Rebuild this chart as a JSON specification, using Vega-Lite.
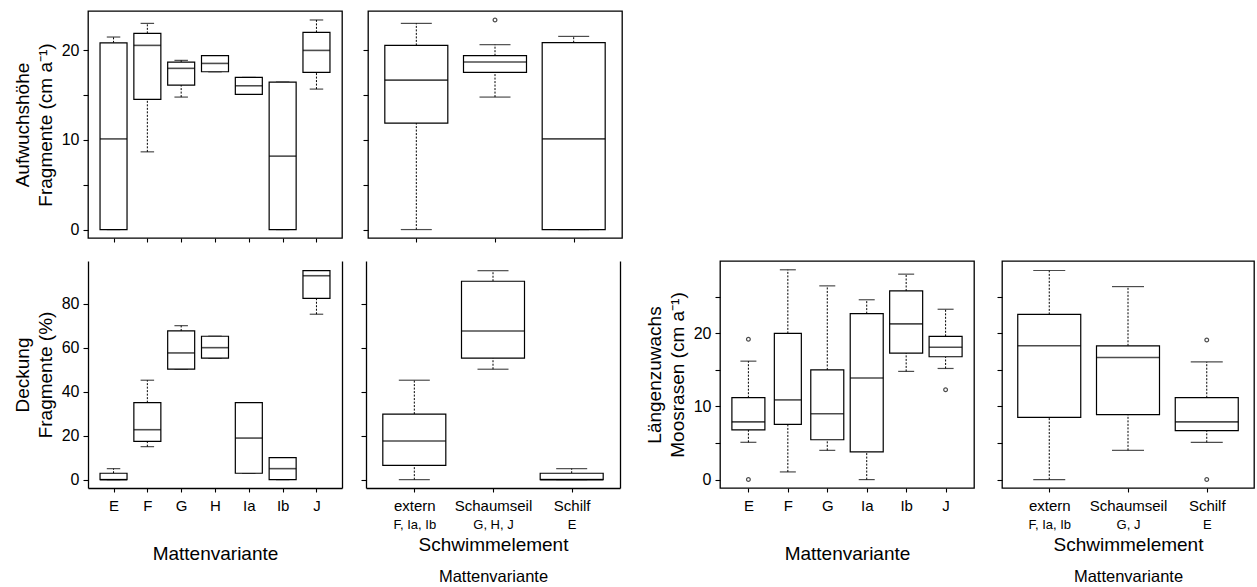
{
 "$schema": "https://vega.github.io/schema/vega-lite/v6.json",
 "padding": {"left": 12, "top": 10, "right": 2, "bottom": 0},
 "background": "white",
 "config": {
  "font": "Liberation Sans",
  "view": {"stroke": null},
  "axis": {"domainColor": "#000", "domainWidth": 1.3, "tickColor": "#000", "tickWidth": 1.1, "labelColor": "#000", "titleColor": "#000", "titleFontWeight": "normal", "grid": false, "labelFont": "Liberation Sans", "titleFont": "Liberation Sans"},
  "axisY": {"labelFontSize": 16, "tickSize": 5, "labelPadding": 4, "titleFontSize": 19, "titleLineHeight": 23, "titlePadding": 6},
  "axisX": {"labelFontSize": 15, "tickSize": 4, "labelPadding": 6, "titleFontSize": 19, "titlePadding": 31, "labelAngle": 0}
 },
 "datasets": {
  "A": [
   {"cat": "E", "lw": 0, "q1": 0, "med": 10.1, "q3": 20.8, "uw": 21.45},
   {"cat": "F", "lw": 8.66, "q1": 14.5, "med": 20.52, "q3": 21.86, "uw": 22.97},
   {"cat": "G", "lw": 14.76, "q1": 16.1, "med": 17.96, "q3": 18.66, "uw": 18.85},
   {"cat": "H", "lw": 17.58, "q1": 17.58, "med": 18.51, "q3": 19.37, "uw": 19.37},
   {"cat": "Ia", "lw": 15.06, "q1": 15.06, "med": 16.02, "q3": 16.95, "uw": 16.95},
   {"cat": "Ib", "lw": 0, "q1": 0, "med": 8.18, "q3": 16.43, "uw": 16.43},
   {"cat": "J", "lw": 15.65, "q1": 17.51, "med": 19.96, "q3": 21.97, "uw": 23.35}
  ],
  "B": [
   {"cat": "extern", "lw": 0, "q1": 11.86, "med": 16.65, "q3": 20.52, "uw": 22.97},
   {"cat": "Schaumseil", "lw": 14.76, "q1": 17.51, "med": 18.66, "q3": 19.37, "uw": 20.6},
   {"cat": "Schilf", "lw": 0, "q1": 0, "med": 10.1, "q3": 20.82, "uw": 21.52}
  ],
  "Bout": [
   {"cat": "Schaumseil", "val": 23.35}
  ],
  "C": [
   {"cat": "E", "lw": 0, "q1": 0, "med": 0, "q3": 2.9, "uw": 5.0},
   {"cat": "F", "lw": 15, "q1": 17.4, "med": 22.7, "q3": 35, "uw": 45.2},
   {"cat": "G", "lw": 50.2, "q1": 50.2, "med": 57.6, "q3": 67.6, "uw": 70},
   {"cat": "H", "lw": 55.2, "q1": 55.2, "med": 60, "q3": 65.2, "uw": 65.2},
   {"cat": "Ia", "lw": 2.9, "q1": 2.9, "med": 18.9, "q3": 35, "uw": 35},
   {"cat": "Ib", "lw": 0, "q1": 0, "med": 5, "q3": 10, "uw": 10},
   {"cat": "J", "lw": 75.2, "q1": 82.4, "med": 92.7, "q3": 95, "uw": 95}
  ],
  "D": [
   {"cat": "extern", "lw": 0, "q1": 6.5, "med": 17.6, "q3": 29.8, "uw": 45.2},
   {"cat": "Schaumseil", "lw": 50.2, "q1": 55.2, "med": 67.6, "q3": 90.2, "uw": 95},
   {"cat": "Schilf", "lw": 0, "q1": 0, "med": 0, "q3": 2.9, "uw": 5}
  ],
  "E": [
   {"cat": "E", "lw": 5.1, "q1": 6.8, "med": 7.9, "q3": 11.2, "uw": 16.2},
   {"cat": "F", "lw": 1.05, "q1": 7.55, "med": 10.9, "q3": 20.0, "uw": 28.7},
   {"cat": "G", "lw": 4.0, "q1": 5.45, "med": 9.0, "q3": 15.0, "uw": 26.5},
   {"cat": "Ia", "lw": 0, "q1": 3.8, "med": 13.9, "q3": 22.7, "uw": 24.6},
   {"cat": "Ib", "lw": 14.8, "q1": 17.3, "med": 21.3, "q3": 25.8, "uw": 28.1},
   {"cat": "J", "lw": 15.2, "q1": 16.8, "med": 18.1, "q3": 19.6, "uw": 23.3}
  ],
  "Eout": [
   {"cat": "E", "val": 19.2},
   {"cat": "E", "val": 0},
   {"cat": "J", "val": 12.3}
  ],
  "F": [
   {"cat": "extern", "lw": 0, "q1": 8.5, "med": 18.3, "q3": 22.6, "uw": 28.6},
   {"cat": "Schaumseil", "lw": 4.0, "q1": 8.9, "med": 16.7, "q3": 18.3, "uw": 26.4},
   {"cat": "Schilf", "lw": 5.1, "q1": 6.7, "med": 7.9, "q3": 11.2, "uw": 16.1}
  ],
  "Fout": [
   {"cat": "Schilf", "val": 19.1},
   {"cat": "Schilf", "val": 0}
  ]
 },
 "spacing": 16,
 "vconcat": [
  {
   "spacing": 18,
   "hconcat": [
    {
     "width": 254, "height": 227,
     "view": {"stroke": "#000", "strokeWidth": 1.3},
     "data": {"name": "A"},
     "encoding": {"x": {"field": "cat", "type": "nominal", "scale": {"type": "point", "padding": 0.755, "domain": ["E", "F", "G", "H", "Ia", "Ib", "J"]}, "axis": {"labels": false, "domain": false, "title": null}}},
     "layer": [
      {"mark": {"type": "rule", "strokeDash": [2, 1.5], "strokeWidth": 1, "color": "#000"},
       "encoding": {"y": {"field": "lw", "type": "quantitative", "scale": {"domain": [-0.94, 24.35], "nice": false, "zero": false}, "axis": {"values": [0, 5, 10, 15, 20], "labelExpr": "datum.value % 10 === 0 ? datum.label : ''", "domain": false, "title": ["Aufwuchshöhe", "Fragmente (cm a⁻¹)"]}}, "y2": {"field": "q1"}}},
      {"mark": {"type": "rule", "strokeDash": [2, 1.5], "strokeWidth": 1, "color": "#000"},
       "encoding": {"y": {"field": "q3", "type": "quantitative"}, "y2": {"field": "uw"}}},
      {"mark": {"type": "tick", "size": 13.5, "thickness": 1.2, "color": "#000"}, "encoding": {"y": {"field": "lw", "type": "quantitative"}}},
      {"mark": {"type": "tick", "size": 13.5, "thickness": 1.2, "color": "#000"}, "encoding": {"y": {"field": "uw", "type": "quantitative"}}},
      {"mark": {"type": "bar", "fill": "#fff", "stroke": "#000", "strokeWidth": 1.2, "size": 27}, "encoding": {"y": {"field": "q1", "type": "quantitative"}, "y2": {"field": "q3"}}},
      {"mark": {"type": "tick", "size": 27, "thickness": 1.6, "color": "#000"}, "encoding": {"y": {"field": "med", "type": "quantitative"}}}
     ]
    },
    {
     "width": 254, "height": 227,
     "view": {"stroke": "#000", "strokeWidth": 1.3},
     "data": {"name": "B"},
     "encoding": {"x": {"field": "cat", "type": "nominal", "scale": {"type": "point", "padding": 0.614, "domain": ["extern", "Schaumseil", "Schilf"]}, "axis": {"labels": false, "domain": false, "title": null}}},
     "layer": [
      {"mark": {"type": "rule", "strokeDash": [2, 1.5], "strokeWidth": 1, "color": "#000"},
       "encoding": {"y": {"field": "lw", "type": "quantitative", "scale": {"domain": [-0.94, 24.35], "nice": false, "zero": false}, "axis": {"values": [0, 5, 10, 15, 20], "labels": false, "domain": false, "title": null}}, "y2": {"field": "q1"}}},
      {"mark": {"type": "rule", "strokeDash": [2, 1.5], "strokeWidth": 1, "color": "#000"},
       "encoding": {"y": {"field": "q3", "type": "quantitative"}, "y2": {"field": "uw"}}},
      {"mark": {"type": "tick", "size": 31, "thickness": 1.2, "color": "#000"}, "encoding": {"y": {"field": "lw", "type": "quantitative"}}},
      {"mark": {"type": "tick", "size": 31, "thickness": 1.2, "color": "#000"}, "encoding": {"y": {"field": "uw", "type": "quantitative"}}},
      {"mark": {"type": "bar", "fill": "#fff", "stroke": "#000", "strokeWidth": 1.2, "size": 63}, "encoding": {"y": {"field": "q1", "type": "quantitative"}, "y2": {"field": "q3"}}},
      {"mark": {"type": "tick", "size": 63, "thickness": 1.6, "color": "#000"}, "encoding": {"y": {"field": "med", "type": "quantitative"}}},
      {"data": {"name": "Bout"}, "mark": {"type": "point", "shape": "circle", "size": 14, "stroke": "#000", "strokeWidth": 1.2, "filled": false}, "encoding": {"y": {"field": "val", "type": "quantitative"}}}
     ]
    }
   ]
  },
  {
   "spacing": 24,
   "hconcat": [
    {
     "spacing": 18,
     "hconcat": [
      {
       "width": 254, "height": 227,
       "data": {"name": "C"},
       "resolve": {"axis": {"y": "independent"}},
       "encoding": {"x": {"field": "cat", "type": "nominal", "scale": {"type": "point", "padding": 0.755, "domain": ["E", "F", "G", "H", "Ia", "Ib", "J"]}, "axis": {"title": "Mattenvariante", "domain": true}}},
       "layer": [
        {"mark": {"type": "rule", "strokeDash": [2, 1.5], "strokeWidth": 1, "color": "#000"},
         "encoding": {"y": {"field": "lw", "type": "quantitative", "scale": {"domain": [-3.8, 99.4], "nice": false, "zero": false}, "axis": {"values": [0, 20, 40, 60, 80], "domain": true, "title": ["Deckung", "Fragmente (%)"]}}, "y2": {"field": "q1"}}},
        {"mark": {"type": "rule", "strokeDash": [2, 1.5], "strokeWidth": 1, "color": "#000"},
         "encoding": {"y": {"field": "q3", "type": "quantitative", "axis": {"orient": "right", "ticks": false, "labels": false, "domain": true, "title": null}}, "y2": {"field": "uw"}}},
        {"mark": {"type": "tick", "size": 13.5, "thickness": 1.2, "color": "#000"}, "encoding": {"y": {"field": "lw", "type": "quantitative", "axis": null}}},
        {"mark": {"type": "tick", "size": 13.5, "thickness": 1.2, "color": "#000"}, "encoding": {"y": {"field": "uw", "type": "quantitative", "axis": null}}},
        {"mark": {"type": "bar", "fill": "#fff", "stroke": "#000", "strokeWidth": 1.2, "size": 27}, "encoding": {"y": {"field": "q1", "type": "quantitative", "axis": null}, "y2": {"field": "q3"}}},
        {"mark": {"type": "tick", "size": 27, "thickness": 1.6, "color": "#000"}, "encoding": {"y": {"field": "med", "type": "quantitative", "axis": null}}}
       ]
      },
      {
       "width": 254, "height": 227,
       "data": {"name": "D"},
       "resolve": {"axis": {"x": "independent", "y": "independent"}},
       "layer": [
        {"mark": {"type": "rule", "strokeDash": [2, 1.5], "strokeWidth": 1, "color": "#000"},
         "encoding": {
          "x": {"field": "cat", "type": "nominal", "scale": {"type": "point", "padding": 0.614, "domain": ["extern", "Schaumseil", "Schilf"]}, "axis": {"orient": "bottom", "domain": true, "title": "Schwimmelement", "titlePadding": 22}},
          "y": {"field": "lw", "type": "quantitative", "scale": {"domain": [-3.8, 99.4], "nice": false, "zero": false}, "axis": {"values": [0, 20, 40, 60, 80], "labels": false, "domain": true, "title": null}}, "y2": {"field": "q1"}}},
        {"mark": {"type": "rule", "strokeDash": [2, 1.5], "strokeWidth": 1, "color": "#000"},
         "encoding": {
          "x": {"field": "cat", "type": "nominal", "axis": {"orient": "bottom", "ticks": false, "tickSize": 0, "domain": false, "labelExpr": "datum.value == 'extern' ? 'F, Ia, Ib' : datum.value == 'Schaumseil' ? 'G, H, J' : 'E'", "labelFontSize": 13, "labelPadding": 30.5, "title": "Mattenvariante", "titleFontSize": 16.5, "titlePadding": 36.5}},
          "y": {"field": "q3", "type": "quantitative", "axis": {"orient": "right", "ticks": false, "labels": false, "domain": true, "title": null}}, "y2": {"field": "uw"}}},
        {"mark": {"type": "tick", "size": 31, "thickness": 1.2, "color": "#000"}, "encoding": {"x": {"field": "cat", "type": "nominal", "axis": null}, "y": {"field": "lw", "type": "quantitative", "axis": null}}},
        {"mark": {"type": "tick", "size": 31, "thickness": 1.2, "color": "#000"}, "encoding": {"x": {"field": "cat", "type": "nominal", "axis": null}, "y": {"field": "uw", "type": "quantitative", "axis": null}}},
        {"mark": {"type": "bar", "fill": "#fff", "stroke": "#000", "strokeWidth": 1.2, "size": 63}, "encoding": {"x": {"field": "cat", "type": "nominal", "axis": null}, "y": {"field": "q1", "type": "quantitative", "axis": null}, "y2": {"field": "q3"}}},
        {"mark": {"type": "tick", "size": 63, "thickness": 1.6, "color": "#000"}, "encoding": {"x": {"field": "cat", "type": "nominal", "axis": null}, "y": {"field": "med", "type": "quantitative", "axis": null}}}
       ]
      }
     ]
    },
    {
     "spacing": 20,
     "hconcat": [
      {
       "width": 254, "height": 227,
       "view": {"stroke": "#000", "strokeWidth": 1.3},
       "data": {"name": "E"},
       "encoding": {"x": {"field": "cat", "type": "nominal", "scale": {"type": "point", "padding": 0.72, "domain": ["E", "F", "G", "Ia", "Ib", "J"]}, "axis": {"title": "Mattenvariante", "domain": false}}},
       "layer": [
        {"mark": {"type": "rule", "strokeDash": [2, 1.5], "strokeWidth": 1, "color": "#000"},
         "encoding": {"y": {"field": "lw", "type": "quantitative", "scale": {"domain": [-1.15, 29.9], "nice": false, "zero": false}, "axis": {"values": [0, 5, 10, 15, 20, 25], "labelExpr": "datum.value % 10 === 0 ? datum.label : ''", "domain": false, "title": ["Längenzuwachs", "Moosrasen (cm a⁻¹)"]}}, "y2": {"field": "q1"}}},
        {"mark": {"type": "rule", "strokeDash": [2, 1.5], "strokeWidth": 1, "color": "#000"},
         "encoding": {"y": {"field": "q3", "type": "quantitative"}, "y2": {"field": "uw"}}},
        {"mark": {"type": "tick", "size": 16, "thickness": 1.2, "color": "#000"}, "encoding": {"y": {"field": "lw", "type": "quantitative"}}},
        {"mark": {"type": "tick", "size": 16, "thickness": 1.2, "color": "#000"}, "encoding": {"y": {"field": "uw", "type": "quantitative"}}},
        {"mark": {"type": "bar", "fill": "#fff", "stroke": "#000", "strokeWidth": 1.2}, "encoding": {"y": {"field": "q1", "type": "quantitative"}, "y2": {"field": "q3"}, "size": {"condition": {"test": "datum.cat === 'F'", "value": 27}, "value": 33}}},
        {"mark": {"type": "tick", "thickness": 1.6, "color": "#000"}, "encoding": {"y": {"field": "med", "type": "quantitative"}, "size": {"condition": {"test": "datum.cat === 'F'", "value": 27}, "value": 33}}},
        {"data": {"name": "Eout"}, "mark": {"type": "point", "shape": "circle", "size": 14, "stroke": "#000", "strokeWidth": 1.2, "filled": false}, "encoding": {"y": {"field": "val", "type": "quantitative"}}}
       ]
      },
      {
       "width": 252, "height": 227,
       "view": {"stroke": "#000", "strokeWidth": 1.3},
       "data": {"name": "F"},
       "resolve": {"axis": {"x": "independent"}},
       "layer": [
        {"mark": {"type": "rule", "strokeDash": [2, 1.5], "strokeWidth": 1, "color": "#000"},
         "encoding": {
          "x": {"field": "cat", "type": "nominal", "scale": {"type": "point", "padding": 0.6, "domain": ["extern", "Schaumseil", "Schilf"]}, "axis": {"orient": "bottom", "domain": false, "title": "Schwimmelement", "titlePadding": 22}},
          "y": {"field": "lw", "type": "quantitative", "scale": {"domain": [-1.15, 29.9], "nice": false, "zero": false}, "axis": {"values": [0, 5, 10, 15, 20, 25], "labels": false, "domain": false, "title": null}}, "y2": {"field": "q1"}}},
        {"mark": {"type": "rule", "strokeDash": [2, 1.5], "strokeWidth": 1, "color": "#000"},
         "encoding": {
          "x": {"field": "cat", "type": "nominal", "axis": {"orient": "bottom", "ticks": false, "tickSize": 0, "domain": false, "labelExpr": "datum.value == 'extern' ? 'F, Ia, Ib' : datum.value == 'Schaumseil' ? 'G, J' : 'E'", "labelFontSize": 13, "labelPadding": 30.5, "title": "Mattenvariante", "titleFontSize": 16.5, "titlePadding": 36.5}},
          "y": {"field": "q3", "type": "quantitative"}, "y2": {"field": "uw"}}},
        {"mark": {"type": "tick", "size": 32, "thickness": 1.2, "color": "#000"}, "encoding": {"x": {"field": "cat", "type": "nominal", "axis": null}, "y": {"field": "lw", "type": "quantitative"}}},
        {"mark": {"type": "tick", "size": 32, "thickness": 1.2, "color": "#000"}, "encoding": {"x": {"field": "cat", "type": "nominal", "axis": null}, "y": {"field": "uw", "type": "quantitative"}}},
        {"mark": {"type": "bar", "fill": "#fff", "stroke": "#000", "strokeWidth": 1.2, "size": 63}, "encoding": {"x": {"field": "cat", "type": "nominal", "axis": null}, "y": {"field": "q1", "type": "quantitative"}, "y2": {"field": "q3"}}},
        {"mark": {"type": "tick", "size": 63, "thickness": 1.6, "color": "#000"}, "encoding": {"x": {"field": "cat", "type": "nominal", "axis": null}, "y": {"field": "med", "type": "quantitative"}}},
        {"data": {"name": "Fout"}, "mark": {"type": "point", "shape": "circle", "size": 14, "stroke": "#000", "strokeWidth": 1.2, "filled": false}, "encoding": {"x": {"field": "cat", "type": "nominal", "axis": null}, "y": {"field": "val", "type": "quantitative"}}}
       ]
      }
     ]
    }
   ]
  }
 ]
}
